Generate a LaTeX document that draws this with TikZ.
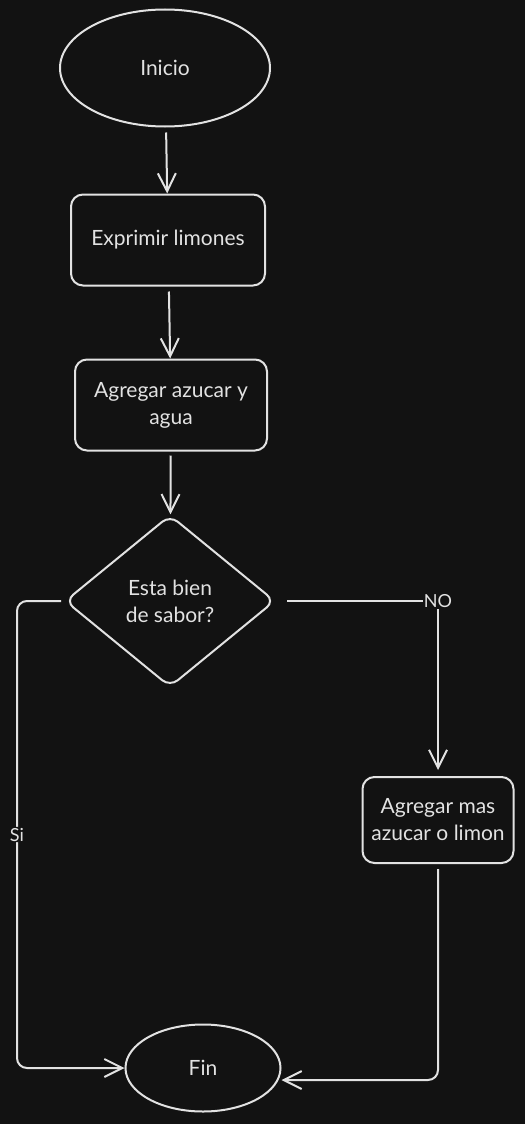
\documentclass[tikz,border=0pt]{standalone}
\usepackage{fontspec}
\setmainfont{Lato}
\definecolor{DarkBg}{RGB}{18,18,18}
\definecolor{SketchWhite}{RGB}{226,226,226}
\usetikzlibrary{arrows.meta, shapes.geometric, positioning}

\begin{document}
\begin{tikzpicture}[x=1pt, y=-1pt,
    trazo/.style={draw=SketchWhite, line width=2pt},
    inicioFin/.style={trazo, ellipse, inner sep=0pt},
    paso/.style={trazo, rounded corners=12pt, inner sep=0pt, align=center},
    decision/.style={trazo, diamond, rounded corners=10pt, inner sep=0pt, align=center},
    flecha/.style={draw=SketchWhite, line width=2pt,
                   -{Straight Barb[length=18pt, width=18pt, line width=2pt]}},
    etiqueta/.style={fill=DarkBg, text=SketchWhite, inner sep=1pt}]
  \fill[DarkBg] (0,0) rectangle (525,1124);
  \useasboundingbox (0,0) rectangle (525,1124);
  \begin{scope}[text=SketchWhite, font=\fontsize{21}{27}\selectfont]
    \node[inicioFin, minimum width=210pt, minimum height=117pt] (inicio) at (165,68) {Inicio};
    \node[paso, minimum width=194pt, minimum height=91pt] (exprimir) at (168,240) {Exprimir limones};
    \node[paso, minimum width=192pt, minimum height=91pt] (agregar) at (171,405) {Agregar azucar y\\agua};
    \node[decision, minimum width=210pt, minimum height=172pt] (sabor) at (170,601) {Esta bien\\de sabor?};
    \node[paso, minimum width=151pt, minimum height=86pt] (mas) at (438,820) {Agregar mas\\azucar o limon};
    \node[inicioFin, minimum width=155pt, minimum height=87pt] (fin) at (203,1068) {Fin};
  \end{scope}

  % flujo principal
  \draw[flecha, shorten <=5pt] (inicio) -- (exprimir);
  \draw[flecha, shorten <=5pt] (exprimir) -- (agregar);
  \draw[flecha, shorten <=4pt] (agregar) -- (sabor);

  % ramas de la decision
  \draw[flecha, shorten <=11pt, shorten >=6pt] (sabor.east) -| node[etiqueta, font=\fontsize{18}{22}\selectfont] {NO} (mas.north);
  \draw[flecha, rounded corners=10pt, shorten <=3pt] (sabor.west) -- ++(-47,0)
    |- node[etiqueta, pos=0.25, font=\fontsize{18}{22}\selectfont] {Si} (fin.west);
  \draw[flecha, rounded corners=10pt, shorten <=5pt] (mas.south) |- ([yshift=-12pt]fin.east);
\end{tikzpicture}
\end{document}
